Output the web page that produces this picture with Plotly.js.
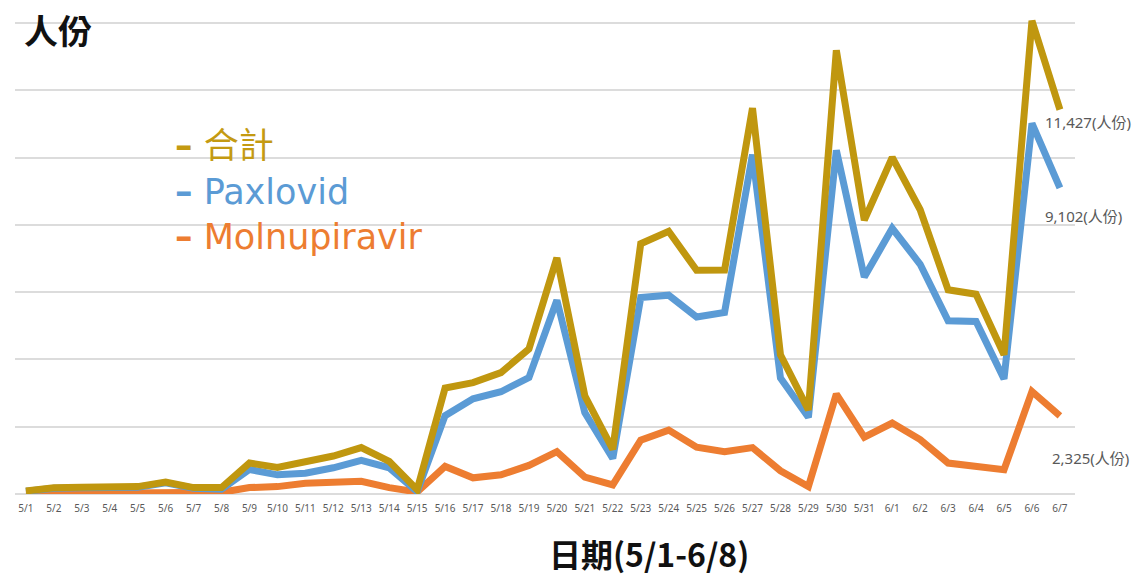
<!DOCTYPE html>
<html>
<head>
<meta charset="utf-8">
<script src="https://cdn.plot.ly/plotly-3.0.1.min.js"></script>
<style>
html,body{margin:0;padding:0;background:#fff;}
#chart{width:1135px;height:579px;}
</style>
</head>
<body>
<div id="chart"></div>
<script>
var dates = ["5/1","5/2","5/3","5/4","5/5","5/6","5/7","5/8","5/9","5/10","5/11","5/12","5/13","5/14","5/15","5/16","5/17","5/18","5/19","5/20","5/21","5/22","5/23","5/24","5/25","5/26","5/27","5/28","5/29","5/30","5/31","6/1","6/2","6/3","6/4","6/5","6/6","6/7"];

var paxlovid = [80,170,185,185,200,330,170,140,730,570,620,780,1000,780,70,2330,2830,3040,3460,5760,2420,1060,5840,5910,5260,5400,10090,3450,2280,10220,6450,7900,6830,5150,5130,3420,11020,9102];

var molnupiravir = [10,15,15,15,20,25,20,50,190,220,320,350,380,190,60,820,480,570,850,1260,500,270,1600,1900,1390,1260,1380,690,220,2970,1690,2110,1620,920,810,720,3050,2325];

var total = [90,185,200,200,220,355,190,190,920,790,940,1130,1380,970,130,3150,3310,3610,4310,7020,2920,1330,7440,7810,6650,6660,11470,4140,2500,13190,8140,10010,8450,6070,5940,4140,14070,11427];

var seriesNames = ["合計","Paxlovid","Molnupiravir"];
var endLabels = ["11,427(人份)","9,102(人份)","2,325(人份)"];
var yTitle = "人份";
var xTitle = "日期(5/1-6/8)";

var cGold = "#c0970f", cBlue = "#5b9bd5", cOrange = "#ed7d31";
var baseFont = "Noto Sans, Noto Sans CJK TC, sans-serif";
var cjkFont = "Noto Sans CJK TC, Noto Sans, sans-serif";
var legendFont = "DejaVu Sans, Noto Sans CJK TC, sans-serif";

var traces = [
  {x: dates, y: molnupiravir, name: seriesNames[2], type: "scatter", mode: "lines",
   line: {color: cOrange, width: 7}, showlegend: false},
  {x: dates, y: paxlovid, name: seriesNames[1], type: "scatter", mode: "lines",
   line: {color: cBlue, width: 7}, showlegend: false},
  {x: dates, y: total, name: seriesNames[0], type: "scatter", mode: "lines",
   line: {color: cGold, width: 7}, showlegend: false}
];

var legendColors = ["#c49a12", cBlue, cOrange];
var legendText = seriesNames.map(function (n, i) {
  return "<span style='color:" + legendColors[i] + "'><b>–</b> " + n + "</span>";
}).join("<br>");

var layout = {
  width: 1135, height: 579,
  margin: {l: 15, r: 60, t: 13, b: 85},
  paper_bgcolor: "#ffffff",
  plot_bgcolor: "rgba(0,0,0,0)",
  showlegend: false,
  xaxis: {
    type: "category",
    range: [-0.39, 37.54],
    showgrid: false,
    zeroline: false,
    showline: false,
    ticks: "outside",
    ticklen: 5,
    tickcolor: "rgba(0,0,0,0)",
    tickangle: 0,
    tickfont: {family: baseFont, size: 10, color: "#595959"},
    fixedrange: true
  },
  yaxis: {
    range: [0, 14300],
    dtick: 2000,
    tick0: 0,
    showgrid: true,
    gridcolor: "#dcdcdc",
    gridwidth: 2,
    zeroline: true,
    zerolinecolor: "#dcdcdc",
    zerolinewidth: 2,
    showticklabels: false,
    ticks: "",
    fixedrange: true
  },
  shapes: [
    {type: "rect", layer: "between", xref: "paper", yref: "y",
     x0: 0.1274, x1: 0.4528, y0: 5200, y1: 13000,
     fillcolor: "#ffffff", line: {width: 0}}
  ],
  annotations: [
    {text: "<b>" + yTitle + "</b>", xref: "paper", yref: "paper", x: 0.0066, y: 0.965,
     xanchor: "left", yanchor: "middle", showarrow: false,
     font: {family: cjkFont, size: 34, color: "#111111"}},
    {text: "<b>" + xTitle + "</b>", xref: "paper", yref: "paper", x: 0.598, y: -0.1227,
     xanchor: "center", yanchor: "middle", showarrow: false,
     font: {family: cjkFont, size: 32, color: "#111111"}},
    {text: legendText, xref: "paper", yref: "paper", x: 0.149, y: 0.628,
     xanchor: "left", yanchor: "middle", align: "left", showarrow: false,
     font: {family: legendFont, size: 35, color: cBlue}},
    {text: endLabels[0], xref: "paper", yref: "paper", x: 0.9698, y: 0.7734,
     xanchor: "left", yanchor: "middle", showarrow: false,
     font: {family: baseFont, size: 15, color: "#595959"}},
    {text: endLabels[1], xref: "paper", yref: "paper", x: 0.9698, y: 0.578,
     xanchor: "left", yanchor: "middle", showarrow: false,
     font: {family: baseFont, size: 15, color: "#595959"}},
    {text: endLabels[2], xref: "paper", yref: "paper", x: 0.9764, y: 0.0748,
     xanchor: "left", yanchor: "middle", showarrow: false,
     font: {family: baseFont, size: 15, color: "#595959"}}
  ]
};

Plotly.newPlot("chart", traces, layout, {displayModeBar: false, staticPlot: true});
</script>
</body>
</html>
